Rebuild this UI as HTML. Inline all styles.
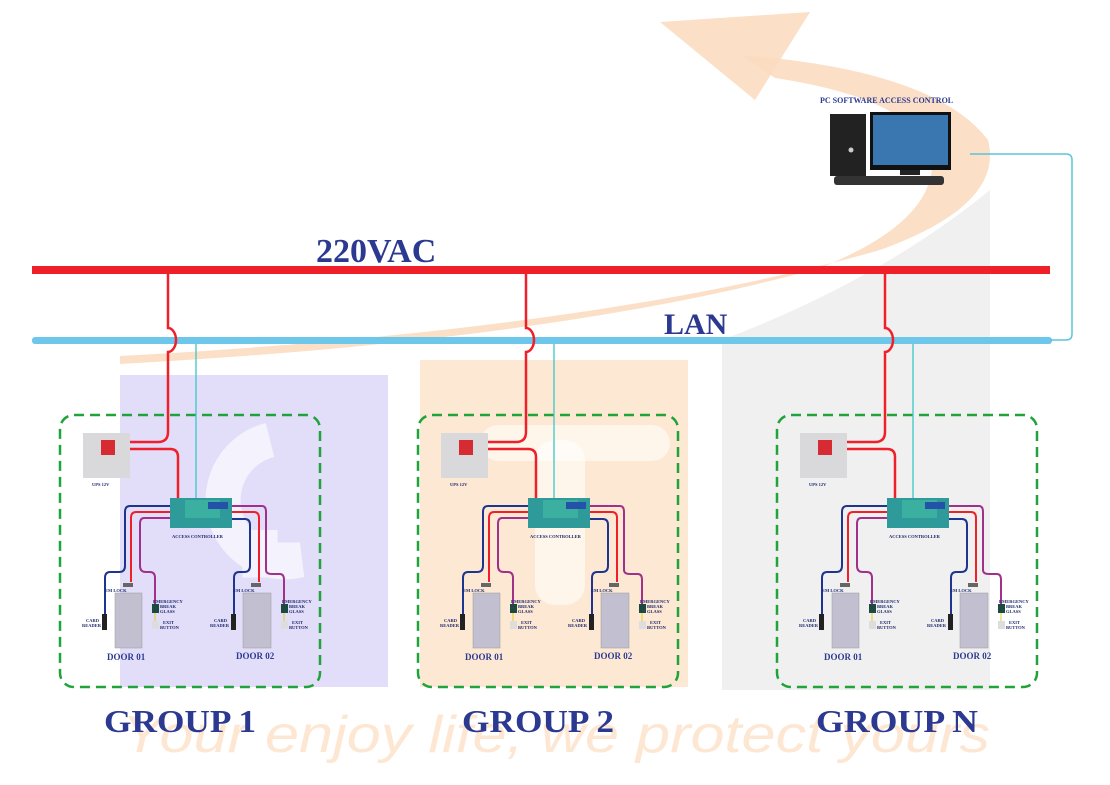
<!DOCTYPE html>
<html><head><meta charset="utf-8"><style>
html,body{margin:0;padding:0;background:#fff;width:1110px;height:785px;overflow:hidden}
svg{display:block}
.s{font-family:"Liberation Serif",serif;font-weight:bold;fill:#2b3990}
.t{font-family:"Liberation Serif",serif;font-weight:bold;fill:#1e2a6e;font-size:4.5px}
</style></head><body>
<svg width="1110" height="785" viewBox="0 0 1110 785" xmlns="http://www.w3.org/2000/svg">
<!-- background panels -->
<rect x="120" y="375" width="268" height="312" fill="#e2def9"/>
<rect x="420" y="360" width="268" height="327" fill="#fde8d3"/>
<path d="M722 340 Q880 280 990 190 L990 690 L722 690 Z" fill="#f0f0f0"/>
<!-- big arrow -->
<path d="M740 55 Q935 70 988 140 Q1005 205 880 250 Q600 330 120 356 L120 364 Q560 340 820 268 Q935 222 932 160 Q920 100 775 78 Z" fill="#fbdcc0" opacity="0.9"/>
<path d="M660 22 L810 12 L755 100 Z" fill="#fbdcc0" opacity="0.9"/>
<!-- watermark letters hint -->
<path d="M270 440 A60 60 0 1 0 300 560 L260 560 L260 530" fill="none" stroke="#fff" stroke-width="35" opacity="0.6"/>
<rect x="480" y="425" width="190" height="36" rx="18" fill="#fff" opacity="0.55"/>
<rect x="535" y="440" width="50" height="165" rx="20" fill="#fff" opacity="0.55"/>
<!-- power & LAN -->
<rect x="32" y="266" width="1018" height="8" fill="#f0202a"/>
<rect x="32" y="337" width="1020" height="7" rx="3" fill="#6cc7ea"/>
<path d="M970 154 L1066 154 Q1072 154 1072 160 L1072 334 Q1072 340 1066 340 L1050 340" fill="none" stroke="#5bc4dc" stroke-width="1.5"/>
<text x="316" y="262" class="s" font-size="34">220VAC</text>
<text x="664" y="334" class="s" font-size="30">LAN</text>
<!-- PC -->
<text x="820" y="103" class="s" font-size="8">PC SOFTWARE ACCESS CONTROL</text>
<rect x="830" y="114" width="36" height="62" fill="#222"/>
<circle cx="851" cy="150" r="2.5" fill="#ccc"/>
<rect x="870" y="112" width="81" height="58" fill="#111"/>
<rect x="873" y="115" width="75" height="50" fill="#3a76b0"/>
<rect x="900" y="170" width="20" height="5" fill="#222"/>
<rect x="834" y="176" width="110" height="9" rx="3" fill="#333"/>
<!-- groups -->
<g id="g1">
<rect x="60" y="415" width="260" height="272" rx="14" fill="none" stroke="#1fa33a" stroke-width="2.5" stroke-dasharray="10 6"/>
<path d="M168 274 L168 328 A8 12 0 0 1 168 352 L168 432 Q168 442 158 442 L130 442" fill="none" stroke="#f0202a" stroke-width="2.5"/>
<path d="M130 449 L170 449 Q178 449 178 457 L178 500" fill="none" stroke="#f0202a" stroke-width="2.5"/>
<line x1="196" y1="344" x2="196" y2="500" stroke="#3cc7c7" stroke-width="1.3"/>
<rect x="83" y="433" width="47" height="45" fill="#d9d9db"/>
<rect x="101" y="440" width="14" height="15" fill="#d62b33"/>
<text x="92" y="486" class="t" font-size="6">UPS 12V</text>
<path d="M170 506 L130 506 Q125 506 125 512 L125 566 Q125 572 119 572 L110 572 Q105 572 105 578 L105 615" fill="none" stroke="#1e3590" stroke-width="2"/>
<path d="M170 512 L136 512 Q131 512 131 518 L131 582" fill="none" stroke="#f0202a" stroke-width="2"/>
<path d="M170 518 L144 518 Q140 518 140 524 L140 566 Q140 572 146 572 L150 572 Q155 572 155 578 L155 604" fill="none" stroke="#a0308a" stroke-width="2"/>
<path d="M232 506 L262 506 Q266 506 266 512 L266 570 Q266 574 272 574 L280 574 Q284 574 284 580 L284 604" fill="none" stroke="#a0308a" stroke-width="2"/>
<path d="M232 512 L254 512 Q259 512 259 518 L259 582" fill="none" stroke="#f0202a" stroke-width="2"/>
<path d="M232 519 L245 519 Q250 519 250 525 L250 566 Q250 572 244 572 L239 572 Q234 572 234 578 L234 615" fill="none" stroke="#1e3590" stroke-width="2"/>
<rect x="170" y="498" width="62" height="30" fill="#2f9a9a"/>
<rect x="185" y="500" width="35" height="18" fill="#3bb0a0"/>
<rect x="208" y="502" width="20" height="7" fill="#2452a8"/>
<text x="172" y="538" class="t" font-size="4.5">ACCESS CONTROLLER</text>
<rect x="115" y="593" width="27" height="55" fill="#c1bfd0" stroke="#999" stroke-width="0.5"/>
<rect x="243" y="593" width="28" height="55" fill="#c1bfd0" stroke="#999" stroke-width="0.5"/>
<rect x="123" y="583" width="10" height="4" fill="#666"/>
<rect x="251" y="583" width="10" height="4" fill="#666"/>
<rect x="102" y="614" width="5" height="16" fill="#222"/>
<rect x="231" y="614" width="5" height="16" fill="#222"/>
<rect x="152" y="604" width="7" height="9" fill="#1d4a40"/>
<rect x="281" y="604" width="7" height="9" fill="#1d4a40"/>
<line x1="155" y1="613" x2="155" y2="621" stroke="#e0d020"/>
<line x1="284" y1="613" x2="284" y2="621" stroke="#e0d020"/>
<rect x="152" y="621" width="7" height="8" fill="#ddd"/>
<rect x="281" y="621" width="7" height="8" fill="#ddd"/>
<text x="105" y="592" class="t">EM LOCK</text><text x="233" y="592" class="t">EM LOCK</text>
<text x="153" y="603" class="t">EMERGENCY</text><text x="160" y="608" class="t">BREAK</text><text x="160" y="613" class="t">GLASS</text>
<text x="282" y="603" class="t">EMERGENCY</text><text x="289" y="608" class="t">BREAK</text><text x="289" y="613" class="t">GLASS</text>
<text x="86" y="622" class="t">CARD</text><text x="82" y="627" class="t">READER</text>
<text x="214" y="622" class="t">CARD</text><text x="210" y="627" class="t">READER</text>
<text x="163" y="624" class="t">EXIT</text><text x="160" y="629" class="t">BUTTON</text>
<text x="292" y="624" class="t">EXIT</text><text x="289" y="629" class="t">BUTTON</text>
<text x="107" y="660" class="s" font-size="9">DOOR 01</text>
<text x="236" y="659" class="s" font-size="9">DOOR 02</text>
</g>
<use href="#g1" x="358" y="0"/>
<use href="#g1" x="717" y="0"/>
<!-- watermark -->
<text x="122" y="752" font-family="'Liberation Sans',sans-serif" font-style="italic" font-size="52" fill="#fde7d2" textLength="868" lengthAdjust="spacingAndGlyphs">Your enjoy life, we protect yours</text>
<text x="104" y="732" class="s" font-size="32" textLength="152" lengthAdjust="spacingAndGlyphs">GROUP 1</text>
<text x="462" y="732" class="s" font-size="32" textLength="152" lengthAdjust="spacingAndGlyphs">GROUP 2</text>
<text x="816" y="732" class="s" font-size="32" textLength="162" lengthAdjust="spacingAndGlyphs">GROUP N</text>
</svg>
</body></html>
